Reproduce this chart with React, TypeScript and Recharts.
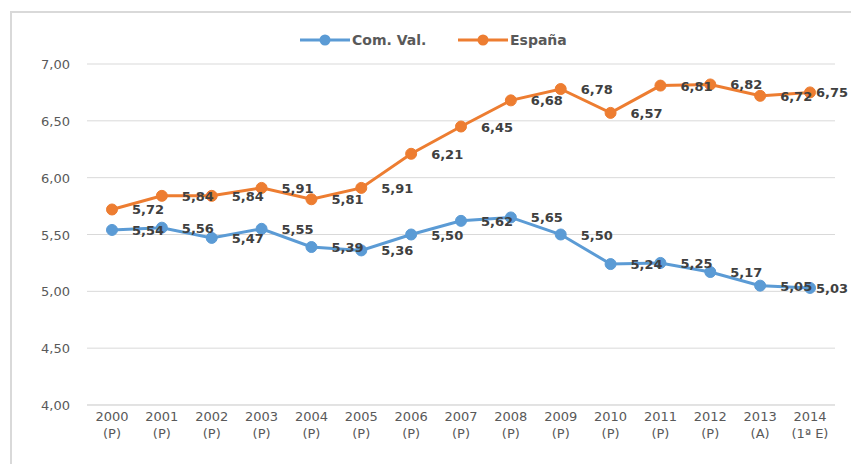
import React from 'react';
import { LineChart, Line, XAxis, YAxis, CartesianGrid, LabelList } from 'recharts';

const years = ['2000', '2001', '2002', '2003', '2004', '2005', '2006', '2007', '2008', '2009', '2010', '2011', '2012', '2013', '2014'];
const yearNotes = ['(P)', '(P)', '(P)', '(P)', '(P)', '(P)', '(P)', '(P)', '(P)', '(P)', '(P)', '(P)', '(P)', '(A)', '(1ª E)'];
const comVal = [5.54, 5.56, 5.47, 5.55, 5.39, 5.36, 5.50, 5.62, 5.65, 5.50, 5.24, 5.25, 5.17, 5.05, 5.03];
const espana = [5.72, 5.84, 5.84, 5.91, 5.81, 5.91, 6.21, 6.45, 6.68, 6.78, 6.57, 6.81, 6.82, 6.72, 6.75];
const yTicks = [4.0, 4.5, 5.0, 5.5, 6.0, 6.5, 7.0];
const seriesNames = ['Com. Val.', 'España'];

const data = years.map((y, i) => ({ year: y, note: yearNotes[i], comVal: comVal[i], espana: espana[i] }));

const BLUE = '#5B9BD5';
const ORANGE = '#ED7D31';
const FONT = 'DejaVu Sans, Verdana, sans-serif';
const CHART_W = 851;

const fmt = (v: number) => v.toFixed(2).replace('.', ',');

const XTick = (props: any) => {
  const { x, y, payload } = props;
  const note = data.find((d) => d.year === payload.value)?.note;
  return (
    <g>
      <text x={x} y={y + 14} textAnchor="middle" fill="#595959" fontSize={13} fontFamily={FONT}>
        {payload.value}
      </text>
      <text x={x} y={y + 31} textAnchor="middle" fill="#595959" fontSize={13} fontFamily={FONT}>
        {note}
      </text>
    </g>
  );
};

const YTick = (props: any) => {
  const { x, y, payload } = props;
  return (
    <text x={x} y={y + 5} textAnchor="end" fill="#595959" fontSize={13} fontFamily={FONT}>
      {fmt(payload.value)}
    </text>
  );
};

const PointLabel = (props: any) => {
  const { x, y, value } = props;
  const labelW = 34;
  const overflow = x + 20 + labelW > CHART_W - 2;
  return (
    <text
      x={overflow ? CHART_W - 3 : x + 20}
      y={y + 5}
      textAnchor={overflow ? 'end' : 'start'}
      fill="#404040"
      fontSize={13}
      fontWeight="bold"
      fontFamily={FONT}
    >
      {fmt(value)}
    </text>
  );
};

const LegendBox = () => {
  const items = [
    { label: seriesNames[0], color: BLUE, x: 300 },
    { label: seriesNames[1], color: ORANGE, x: 458 },
  ];
  return (
    <svg width={851} height={30} style={{ position: 'absolute', left: 0, top: 25, display: 'block' }}>
      {items.map((it) => (
        <g key={it.label}>
          <line x1={it.x} y1={15} x2={it.x + 50} y2={15} stroke={it.color} strokeWidth={3} />
          <circle cx={it.x + 25} cy={15} r={5.5} fill={it.color} />
          <text x={it.x + 52} y={20} fill="#595959" fontSize={14} fontWeight="bold" fontFamily={FONT}>
            {it.label}
          </text>
        </g>
      ))}
    </svg>
  );
};

export default function App() {
  return (
    <div style={{ position: 'absolute', left: 0, top: 0, width: 851, height: 464, background: '#fff' }}>
      <div
        style={{
          position: 'absolute',
          left: 10,
          top: 11,
          width: 841,
          height: 453,
          borderTop: '2px solid #d9d9d9',
          borderLeft: '2px solid #d9d9d9',
          boxSizing: 'border-box',
        }}
      />
      <LineChart
        width={CHART_W}
        height={464}
        data={data}
        margin={{ top: 64, right: 16, bottom: 9, left: 0 }}
        style={{ position: 'absolute', left: 0, top: 0 }}
      >
        <CartesianGrid vertical={false} stroke="#d9d9d9" strokeWidth={1} />
        <XAxis
          dataKey="year"
          axisLine={{ stroke: '#d9d9d9' }}
          tickLine={false}
          tickSize={0}
          height={50}
          interval={0}
          padding={{ left: 25, right: 25 }}
          tick={<XTick />}
        />
        <YAxis
          domain={[4, 7]}
          ticks={yTicks}
          width={87}
          axisLine={false}
          tickLine={false}
          tickSize={0}
          tickMargin={17}
          tick={<YTick />}
        />
        <Line
          type="linear"
          dataKey="comVal"
          name={seriesNames[0]}
          stroke={BLUE}
          strokeWidth={3}
          dot={{ r: 5.5, fill: BLUE, stroke: BLUE, strokeWidth: 1 }}
          activeDot={false}
          isAnimationActive={false}
        >
          <LabelList dataKey="comVal" content={<PointLabel />} />
        </Line>
        <Line
          type="linear"
          dataKey="espana"
          name={seriesNames[1]}
          stroke={ORANGE}
          strokeWidth={3}
          dot={{ r: 5.5, fill: ORANGE, stroke: ORANGE, strokeWidth: 1 }}
          activeDot={false}
          isAnimationActive={false}
        >
          <LabelList dataKey="espana" content={<PointLabel />} />
        </Line>
      </LineChart>
      <LegendBox />
    </div>
  );
}
